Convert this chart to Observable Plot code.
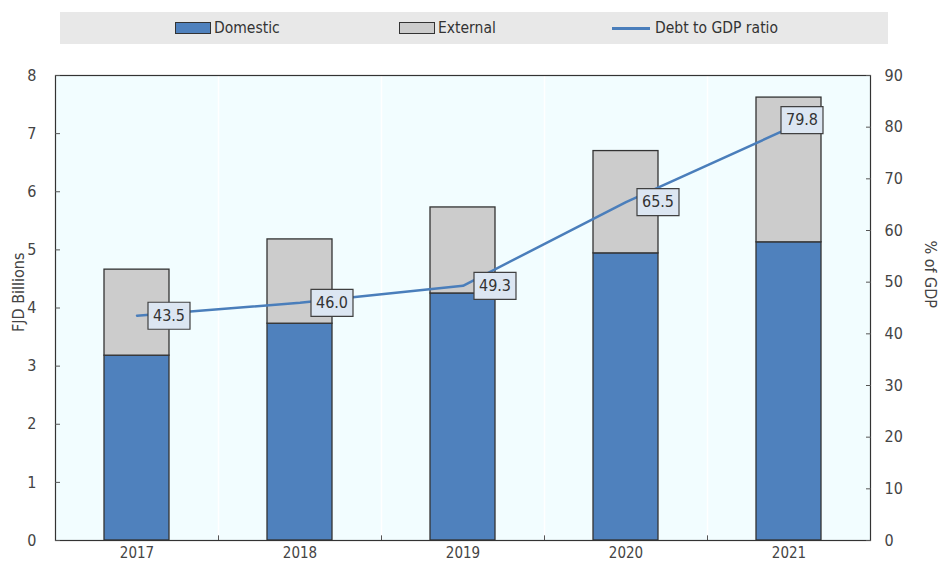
<!DOCTYPE html>
<html>
<head>
<meta charset="utf-8">
<script src="https://cdn.jsdelivr.net/npm/d3@7"></script>
<script src="https://cdn.jsdelivr.net/npm/@observablehq/plot@0.6"></script>
<style>
  body { margin: 0; background: #fff; }
  #wrap { position: relative; width: 944px; height: 564px; font-family: "DejaVu Sans Condensed", "DejaVu Sans", sans-serif; font-stretch: condensed; }
  #legend { position: absolute; left: 60px; top: 12px; width: 828px; height: 32px; background: #e8e8e8; }
  .item { position: absolute; top: 0; height: 32px; display: flex; align-items: center; font-size: 15.5px; color: #333; }
  .sw { width: 36px; height: 12px; border: 1.5px solid #333; box-sizing: border-box; margin-right: 3px; }
  .ln { width: 38px; height: 3px; background: #4a7ebb; margin-right: 5px; }
  #chart { position: absolute; left: 0; top: 0; }
</style>
</head>
<body>
<div id="wrap">
  <div id="chart"></div>
  <div id="legend">
    <div class="item" style="left:115px"><div class="sw" style="background:#4f81bd"></div>Domestic</div>
    <div class="item" style="left:339px"><div class="sw" style="background:#cccccc"></div>External</div>
    <div class="item" style="left:552px"><div class="ln"></div>Debt to GDP ratio</div>
  </div>
</div>
<script>
const years = ["2017", "2018", "2019", "2020", "2021"];
const domestic = [3.18, 3.73, 4.25, 4.94, 5.13];
const external = [1.48, 1.45, 1.48, 1.76, 2.49];
const debtRatio = [43.5, 46.0, 49.3, 65.5, 79.8];
const leftTicks = [0, 1, 2, 3, 4, 5, 6, 7, 8];
const rightTicks = [0, 10, 20, 30, 40, 50, 60, 70, 80, 90];

const leftMax = 8, rightMax = 90;
const toLeft = v => v * leftMax / rightMax;

const bars = [];
years.forEach((y, i) => {
  bars.push({year: y, type: "Domestic", value: domestic[i]});
  bars.push({year: y, type: "External", value: external[i]});
});
const ratio = years.map((y, i) => ({year: y, ratio: debtRatio[i], yy: toLeft(debtRatio[i]), last: i === years.length - 1}));

const colors = {Domestic: "#4f81bd", External: "#cccccc"};
const boxSymbol = { draw(ctx) { ctx.moveTo(-21, -13.5); ctx.lineTo(21, -13.5); ctx.lineTo(21, 13.5); ctx.lineTo(-21, 13.5); ctx.closePath(); } };
const font = '"DejaVu Sans Condensed", "DejaVu Sans", sans-serif';
const step = 815 / years.length;

const chart = Plot.plot({
  width: 944,
  height: 564,
  marginTop: 75,
  marginBottom: 24,
  marginLeft: 55,
  marginRight: 74,
  style: { fontFamily: font, fontSize: "15px", color: "#444", background: "transparent", fontStretch: "condensed" },
  x: { domain: years, paddingInner: 0.6, paddingOuter: 0.3, label: null },
  y: { domain: [0, leftMax], label: null },
  marks: [
    Plot.frame({ fill: "#f2fdff" }),
    Plot.ruleX(years.slice(0, -1), { dx: step / 2, stroke: "#ffffff", strokeWidth: 1.5 }),
    Plot.ruleX(years.slice(0, -1), { dx: step / 2, y1: 0, y2: 0.08, stroke: "#555" }),
    Plot.barY(bars, { x: "year", y: "value", fill: d => colors[d.type], stroke: "#333", strokeWidth: 1.3, order: ["Domestic", "External"] }),
    Plot.line(ratio, { x: "year", y: "yy", stroke: "#4a7ebb", strokeWidth: 2.5 }),
    Plot.dot(ratio.filter(d => !d.last), { x: "year", y: "yy", dx: 32, symbol: boxSymbol, fill: "#dce6f2", stroke: "#404040", strokeWidth: 1.2 }),
    Plot.text(ratio.filter(d => !d.last), { x: "year", y: "yy", dx: 32, text: d => d.ratio.toFixed(1), fill: "#333", fontSize: 16 }),
    Plot.dot(ratio.filter(d => d.last), { x: "year", y: "yy", dx: 13, dy: -8, symbol: boxSymbol, fill: "#dce6f2", stroke: "#404040", strokeWidth: 1.2 }),
    Plot.text(ratio.filter(d => d.last), { x: "year", y: "yy", dx: 13, dy: -8, text: d => d.ratio.toFixed(1), fill: "#333", fontSize: 16 }),
    Plot.frame({ stroke: "#333", strokeWidth: 1.2 }),
    Plot.axisX({ tickSize: 0, tickPadding: 7, fontSize: 15 }),
    Plot.axisY(leftTicks, { anchor: "left", tickSize: -5, tickFormat: () => "", stroke: "#555" }),
    Plot.axisY(leftTicks, { anchor: "left", tickSize: 0, tickPadding: 19, fontSize: 16, tickFormat: d => String(d), label: null }),
    Plot.axisY(rightTicks.map(toLeft), { anchor: "right", tickSize: -5, tickFormat: () => "", stroke: "#555" }),
    Plot.axisY(rightTicks.map(toLeft), { anchor: "right", tickSize: 0, tickPadding: 14, fontSize: 16, tickFormat: d => String(Math.round(d * rightMax / leftMax)), label: null }),
    Plot.text(["FJD Billions"], { frameAnchor: "left", dx: -37, dy: 24, rotate: -90, fontSize: 16, fill: "#444" }),
    Plot.text(["% of GDP"], { frameAnchor: "right", dx: 60, rotate: 90, fontSize: 16, fill: "#444" })
  ]
});
document.getElementById("chart").appendChild(chart);
</script>
</body>
</html>
